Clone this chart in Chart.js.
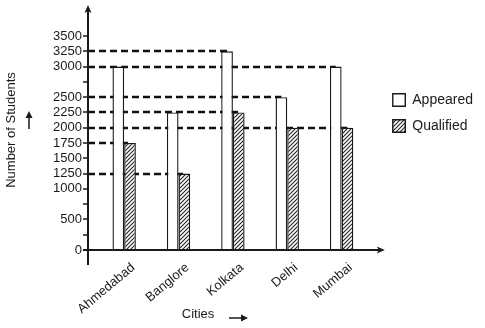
<!DOCTYPE html>
<html>
<head>
<meta charset="utf-8">
<script src="https://cdn.jsdelivr.net/npm/chart.js@4.4.1/dist/chart.umd.min.js"></script>
<style>
  html, body { margin: 0; padding: 0; background: #fff; }
</style>
</head>
<body>
<canvas id="barChart" width="485" height="328"></canvas>
<script>
const cities = ['Ahmedabad', 'Banglore', 'Kolkata', 'Delhi', 'Mumbai'];
const appeared = [3000, 2250, 3250, 2500, 3000];
const qualified = [1750, 1250, 2250, 2000, 2000];
const yTickLabels = [0, 500, 1000, 1250, 1500, 1750, 2000, 2250, 2500, 3000, 3250, 3500];

const FONT = '"Liberation Sans", Arial, sans-serif';
const INK = '#1a1a1a';

const barEl = document.getElementById('barChart');

// diagonal hatch for the "Qualified" bars
function hatch() {
    const c = document.createElement('canvas');
    c.width = 4; c.height = 4;
    const g = c.getContext('2d');
    g.fillStyle = '#fff';
    g.fillRect(0, 0, 4, 4);
    g.strokeStyle = '#222';
    g.lineWidth = 1.1;
    g.beginPath();
    g.moveTo(0, 4); g.lineTo(4, 0);
    g.moveTo(-1, 1); g.lineTo(1, -1);
    g.moveTo(3, 5); g.lineTo(5, 3);
    g.stroke();
    return barEl.getContext('2d').createPattern(c, 'repeat');
}

function line(ctx, x1, y1, x2, y2) {
    ctx.beginPath();
    ctx.moveTo(x1, y1);
    ctx.lineTo(x2, y2);
    ctx.stroke();
}

// dashed guide from the y axis to the last bar holding each value
const guideLines = {
    id: 'guideLines',
    beforeDatasetsDraw(chart) {
        const { ctx, chartArea, scales: { y } } = chart;
        const axisX = chartArea.left - 9;
        const ends = new Map();
        chart.data.datasets.forEach((ds, di) => {
            chart.getDatasetMeta(di).data.forEach((bar, i) => {
                const v = ds.data[i];
                ends.set(v, Math.max(ends.get(v) || 0, bar.x));
            });
        });
        ctx.save();
        ctx.strokeStyle = '#111';
        ctx.lineWidth = 2.5;
        ctx.setLineDash([7, 4]);
        ends.forEach((x, v) => {
            const py = Math.round(y.getPixelForValue(v));
            line(ctx, axisX, py, x, py);
        });
        ctx.restore();
    }
};

// axis lines with arrow heads, tick marks and axis titles
const axisDecor = {
    id: 'axisDecor',
    afterDraw(chart) {
        const { ctx, chartArea: a, scales: { y } } = chart;
        const ax = a.left - 9;
        const ay = a.bottom;
        ctx.save();
        ctx.strokeStyle = INK;
        ctx.fillStyle = INK;
        ctx.lineWidth = 2;
        line(ctx, ax, a.bottom + 15, ax, 10);
        line(ctx, ax - 5, ay, a.right + 12, ay);

        ctx.beginPath();
        ctx.moveTo(ax, 5); ctx.lineTo(ax - 3.5, 13); ctx.lineTo(ax, 11); ctx.lineTo(ax + 3.5, 13);
        ctx.closePath(); ctx.fill();
        const tx = a.right + 16;
        ctx.beginPath();
        ctx.moveTo(tx, ay); ctx.lineTo(tx - 8, ay - 3.5); ctx.lineTo(tx - 6, ay); ctx.lineTo(tx - 8, ay + 3.5);
        ctx.closePath(); ctx.fill();

        ctx.lineWidth = 1.5;
        y.ticks.forEach(t => {
            const py = Math.round(y.getPixelForValue(t.value));
            line(ctx, ax - 5, py, ax, py);
        });

        ctx.font = '13px ' + FONT;
        ctx.textAlign = 'center';
        ctx.textBaseline = 'middle';
        ctx.save();
        ctx.translate(11, 130);
        ctx.rotate(-Math.PI / 2);
        ctx.fillText('Number of Students', 0, 0);
        ctx.restore();
        ctx.fillText('Cities', 198, 314);

        ctx.lineWidth = 1.5;
        line(ctx, 29, 129, 29, 115);
        ctx.beginPath();
        ctx.moveTo(29, 111); ctx.lineTo(25.5, 118); ctx.lineTo(32.5, 118);
        ctx.closePath(); ctx.fill();
        line(ctx, 229, 318, 243, 318);
        ctx.beginPath();
        ctx.moveTo(248, 318); ctx.lineTo(241, 314.5); ctx.lineTo(241, 321.5);
        ctx.closePath(); ctx.fill();
        ctx.restore();
    }
};

// move the legend block off the plot edge
const legendShift = {
    id: 'legendShift',
    afterLayout(chart) {
        const lg = chart.legend;
        lg.left += 12; lg.right += 12;
        lg.top += 45; lg.bottom += 45;
    }
};

new Chart(barEl, {
    type: 'bar',
    data: {
        labels: cities,
        datasets: [
            {
                label: 'Appeared',
                data: appeared,
                backgroundColor: '#ffffff',
                borderColor: INK,
                borderWidth: 1.4,
                categoryPercentage: 0.43,
                barPercentage: 1
            },
            {
                label: 'Qualified',
                data: qualified,
                backgroundColor: hatch(),
                borderColor: INK,
                borderWidth: 1.4,
                categoryPercentage: 0.43,
                barPercentage: 1
            }
        ]
    },
    options: {
        responsive: false,
        animation: false,
        devicePixelRatio: 1,
        layout: { padding: { top: 36, right: 14, bottom: 0, left: 0 } },
        plugins: {
            legend: {
                position: 'right',
                align: 'start',
                labels: {
                    boxWidth: 12.5,
                    boxHeight: 12.5,
                    padding: 12,
                    color: INK,
                    font: { family: FONT, size: 14 }
                }
            },
            tooltip: { enabled: false }
        },
        scales: {
            x: {
                grid: { display: false, drawTicks: false },
                border: { display: false },
                ticks: {
                    autoSkip: false,
                    minRotation: 40,
                    maxRotation: 40,
                    padding: 10,
                    labelOffset: 9,
                    color: INK,
                    font: { family: FONT, size: 13 }
                },
                afterFit: s => { s.height = 78; }
            },
            y: {
                min: 0,
                max: 3500,
                grid: { display: false, drawTicks: false },
                border: { display: false },
                ticks: {
                    stepSize: 250,
                    autoSkip: false,
                    padding: 15,
                    color: INK,
                    font: { family: FONT, size: 13 },
                    callback: v => yTickLabels.includes(v) ? v : ''
                },
                afterFit: s => { s.width = 97; }
            }
        }
    },
    plugins: [guideLines, axisDecor, legendShift]
});
</script>
</body>
</html>
